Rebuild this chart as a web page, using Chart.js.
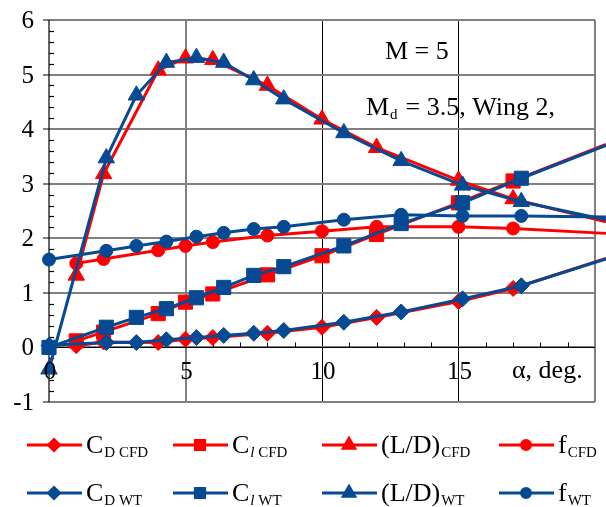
<!DOCTYPE html>
<html>
<head>
<meta charset="utf-8">
<script src="https://cdn.jsdelivr.net/npm/chart.js@4.4.1/dist/chart.umd.min.js"></script>
<style>
    html, body { margin: 0; padding: 0; background: #fff; }
    #wrap { width: 606px; height: 507px; }
</style>
</head>
<body>
<div id="wrap"><canvas id="chart" width="606" height="507"></canvas></div>
<script>
// --- DATA ---
const alphaCFD = [1, 2, 4, 5, 6, 8, 10, 12, 15, 17, 20.4];
const cdCFD = [0.03, 0.10, 0.09, 0.15, 0.18, 0.26, 0.37, 0.55, 0.84, 1.08, 1.63];
const clCFD = [0.12, 0.28, 0.62, 0.83, 0.98, 1.33, 1.68, 2.07, 2.65, 3.05, 3.72];
const ldCFD = [1.32, 3.18, 5.08, 5.30, 5.27, 4.80, 4.18, 3.66, 3.06, 2.72, 2.30];
const fCFD = [1.54, 1.62, 1.78, 1.86, 1.93, 2.05, 2.13, 2.21, 2.21, 2.18, 2.09];

const alphaWT = [0, 2.1, 3.2, 4.3, 5.4, 6.4, 7.5, 8.6, 10.8, 12.9, 15.15, 17.3, 20.4];
const cdWT = [0.04, 0.09, 0.09, 0.14, 0.18, 0.22, 0.26, 0.31, 0.46, 0.65, 0.89, 1.13, 1.62];
const clWT = [0.00, 0.37, 0.55, 0.71, 0.91, 1.10, 1.32, 1.48, 1.86, 2.27, 2.65, 3.10, 3.70];
const ldWT = [-0.40, 3.47, 4.62, 5.22, 5.31, 5.22, 4.90, 4.55, 3.93, 3.42, 2.97, 2.67, 2.34];
const fWT = [1.61, 1.77, 1.86, 1.94, 2.03, 2.10, 2.17, 2.21, 2.34, 2.43, 2.41, 2.41, 2.39];

const xTicks = [0, 5, 10, 15];
const yTicks = [-1, 0, 1, 2, 3, 4, 5, 6];
const X_MAX = 20;

const RED = '#ff0000';
const BLUE = '#054a93';
const SERIF = '"Liberation Serif", "Times New Roman", serif';

// legend entries: main text + subscript parts
const legendItems = [
    { color: RED, style: 'rectRot', r: 5.5, main: 'C', sub: [['D CFD', false]] },
    { color: RED, style: 'rect', r: 6.5, main: 'C', sub: [['l', true], [' CFD', false]] },
    { color: RED, style: 'triangle', r: 6.5, main: '(L/D)', sub: [['CFD', false]] },
    { color: RED, style: 'circle', r: 4.5, main: 'f', sub: [['CFD', false]] },
    { color: BLUE, style: 'rectRot', r: 5.5, main: 'C', sub: [['D WT', false]] },
    { color: BLUE, style: 'rect', r: 6.5, main: 'C', sub: [['l', true], [' WT', false]] },
    { color: BLUE, style: 'triangle', r: 6.5, main: '(L/D)', sub: [['WT', false]] },
    { color: BLUE, style: 'circle', r: 4.5, main: 'f', sub: [['WT', false]] }
];

function makeSet(label, xs, ys, color, style, radius, order) {
    return {
        label: label,
        data: xs.map((x, i) => ({ x: x, y: ys[i] })),
        borderColor: color,
        backgroundColor: color,
        borderWidth: 3,
        pointStyle: style,
        pointRadius: ctx => (xs[ctx.dataIndex] > X_MAX ? 0 : radius),
        pointBorderWidth: 1,
        pointBackgroundColor: color,
        pointBorderColor: color,
        tension: 0,
        clip: false,
        order: order
    };
}

// --- AXES, LABELS, LEGEND ---
function line(ctx, x1, y1, x2, y2) {
    ctx.beginPath();
    ctx.moveTo(x1, y1);
    ctx.lineTo(x2, y2);
    ctx.stroke();
}

function subText(ctx, x, y, main, subs, size, subSize) {
    ctx.font = size + 'px ' + SERIF;
    ctx.fillText(main, x, y);
    let cx = x + ctx.measureText(main).width + 1;
    subs.forEach(([t, italic]) => {
        ctx.font = (italic ? 'italic ' : '') + subSize + 'px ' + SERIF;
        ctx.fillText(t, cx, y + 4);
        cx += ctx.measureText(t).width;
    });
}

const axesPlugin = {
    id: 'axes',
    beforeDatasetsDraw(chart) {
        const { ctx, chartArea: a, scales: { x, y } } = chart;
        ctx.save();
        // gridline stubs left of the y axis
        ctx.strokeStyle = '#808080';
        ctx.lineWidth = 2;
        yTicks.forEach(v => {
            const py = Math.round(y.getPixelForValue(v));
            line(ctx, a.left - 6, py, a.left, py);
        });
        ctx.strokeStyle = '#000';
        ctx.lineWidth = 1.2;
        // y axis and minor ticks
        line(ctx, a.left, a.top, a.left, a.bottom);
        for (let i = -5; i <= 30; i++) {
            if (i % 5 === 0) continue;
            const py = Math.round(y.getPixelForValue(i / 5)) + 0.5;
            line(ctx, a.left, py, a.left + 5, py);
        }
        // x axis at y = 0 with minor ticks
        const y0 = Math.round(y.getPixelForValue(0)) + 0.5;
        ctx.lineWidth = 1;
        line(ctx, a.left, y0, a.right, y0);
        for (let v = 1; v < X_MAX; v++) {
            if (v % 5 === 0) continue;
            const px = Math.round(x.getPixelForValue(v)) + 0.5;
            line(ctx, px, y0, px, y0 - 5);
        }
        ctx.restore();
    },
    afterDraw(chart) {
        const { ctx, chartArea: a, scales: { x, y } } = chart;
        ctx.save();
        ctx.fillStyle = '#000';
        ctx.font = '25px ' + SERIF;
        ctx.textBaseline = 'alphabetic';
        // y tick labels
        ctx.textAlign = 'right';
        yTicks.forEach(v => ctx.fillText(String(v), a.left - 15, y.getPixelForValue(v) + 8));
        // x tick labels below the zero line
        ctx.textAlign = 'center';
        const y0 = y.getPixelForValue(0);
        xTicks.forEach(v => ctx.fillText(String(v), x.getPixelForValue(v) + 1, y0 + 32));
        ctx.textAlign = 'left';
        ctx.font = '26px ' + SERIF;
        ctx.fillText('\u03b1, deg.', 512, y0 + 31);

        // annotations
        ctx.fillText('M = 5', 385, 59);
        subText(ctx, 366, 115, 'M', [['d', false]], 26, 15);
        ctx.font = '26px ' + SERIF;
        ctx.fillText(' = 3.5, Wing 2,', 366 + ctx.measureText('M').width + 10, 115);

        // legend
        const colX = [27, 173, 322, 499];
        const rowY = [445, 493];
        legendItems.forEach((it, i) => {
            const lx = colX[i % 4];
            const ly = rowY[Math.floor(i / 4)];
            ctx.strokeStyle = it.color;
            ctx.fillStyle = it.color;
            ctx.lineWidth = 3;
            line(ctx, lx, ly, lx + 55, ly);
            Chart.helpers.drawPoint(ctx, {
                pointStyle: it.style, radius: it.r, rotation: 0, borderWidth: 1
            }, lx + 27, ly);
            ctx.fillStyle = '#000';
            subText(ctx, lx + 59, ly + 8, it.main, it.sub, 26, 15);
        });
        ctx.restore();
    }
};

const ctx = document.getElementById('chart').getContext('2d');

new Chart(ctx, {
    type: 'line',
    data: {
        datasets: [
            makeSet('CD WT', alphaWT, cdWT, BLUE, 'rectRot', 8, 1),
            makeSet('Cl WT', alphaWT, clWT, BLUE, 'rect', 10, 1),
            makeSet('L/D WT', alphaWT, ldWT, BLUE, 'triangle', 9.5, 1),
            makeSet('f WT', alphaWT, fWT, BLUE, 'circle', 6.5, 1),
            makeSet('CD CFD', alphaCFD, cdCFD, RED, 'rectRot', 8, 2),
            makeSet('Cl CFD', alphaCFD, clCFD, RED, 'rect', 10, 2),
            makeSet('L/D CFD', alphaCFD, ldCFD, RED, 'triangle', 9.5, 2),
            makeSet('f CFD', alphaCFD, fCFD, RED, 'circle', 6.5, 2)
        ]
    },
    options: {
        responsive: false,
        animation: false,
        devicePixelRatio: 1,
        layout: { padding: { left: 49, right: 11, top: 20, bottom: 105 } },
        plugins: { legend: { display: false }, tooltip: { enabled: false } },
        scales: {
            x: {
                type: 'linear',
                min: 0,
                max: X_MAX,
                ticks: { display: false, stepSize: 5 },
                border: { display: false },
                grid: {
                    drawTicks: false,
                    color: c => (c.tick.value === 10 || c.tick.value === 15 ? '#000' : (c.tick.value === 0 ? 'rgba(0,0,0,0)' : '#808080')),
                    lineWidth: c => (c.tick.value === 10 || c.tick.value === 15 ? 1 : 2)
                }
            },
            y: {
                min: -1,
                max: 6,
                ticks: { display: false, stepSize: 1 },
                border: { display: false },
                grid: { drawTicks: false, color: '#808080', lineWidth: 2 }
            }
        }
    },
    plugins: [axesPlugin]
});
</script>
</body>
</html>
